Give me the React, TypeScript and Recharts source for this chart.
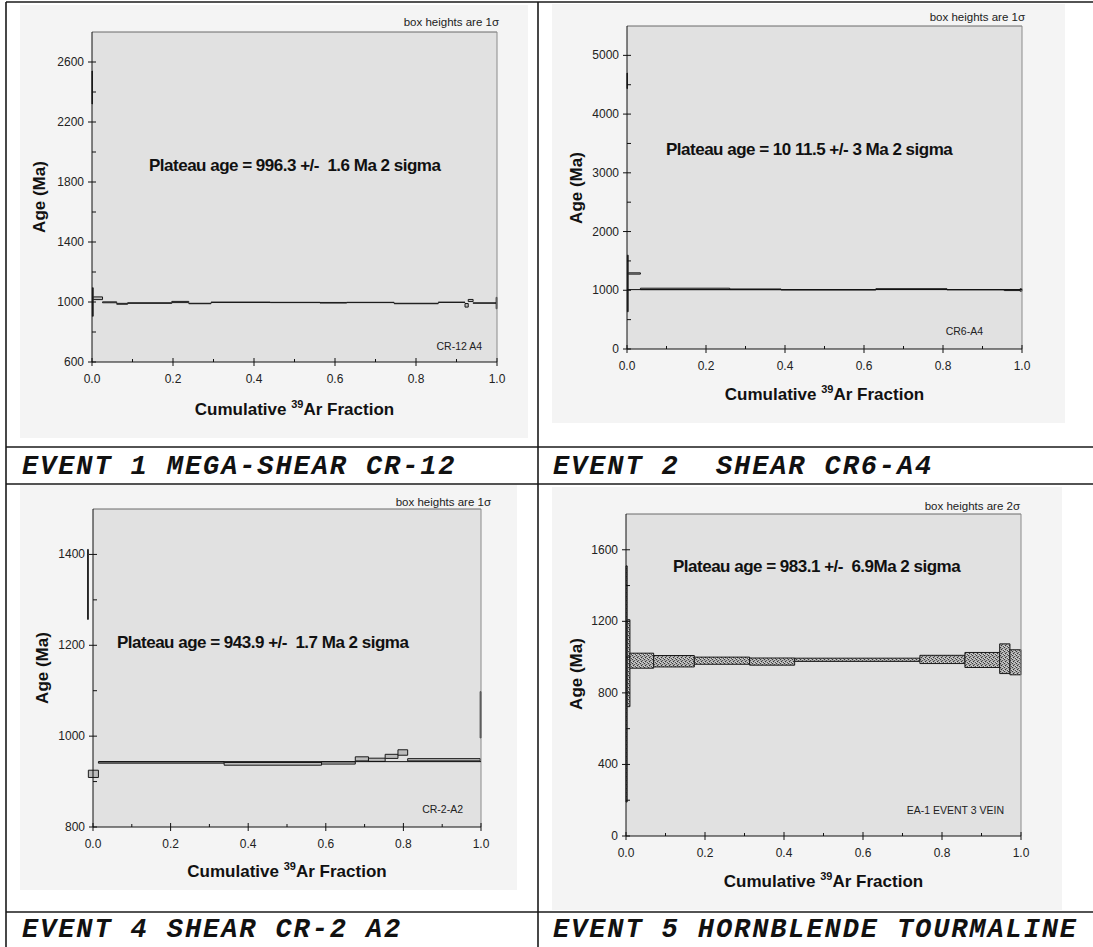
import React from "react";
import { CartesianGrid, ComposedChart, ReferenceArea, ReferenceLine, XAxis, YAxis } from "recharts";

const SANS = "'Liberation Sans', Arial, Helvetica, sans-serif";
const MONO = "'Courier New', 'Liberation Mono', monospace";

// shared x axis (cumulative 39Ar fraction)
const xTicks = [0, 0.1, 0.2, 0.3, 0.4, 0.5, 0.6, 0.7, 0.8, 0.9, 1.0];
const xMajor = [0, 0.2, 0.4, 0.6, 0.8, 1.0];

// event 1 - CR-12 A4 (step boundaries, step ages, 1 sigma)
const cr12Frac = [0, 0.001, 0.003, 0.026, 0.061, 0.088, 0.197, 0.239, 0.294, 0.44, 0.563, 0.629, 0.746, 0.855, 0.921, 0.929, 0.941, 0.998, 1.0];
const cr12Age = [2430, 1000, 1025, 998, 988, 993, 1000, 990, 998, 997, 995, 997, 990, 998, 978, 1010, 993, 993];
const cr12Err = [110, 95, 9, 3, 3, 2, 4, 1.5, 1.5, 1, 2, 1, 1.5, 1, 12, 7, 1.5, 38];
const cr12Ticks = [600, 800, 1000, 1200, 1400, 1600, 1800, 2000, 2200, 2400, 2600];
const cr12Major = [600, 1000, 1400, 1800, 2200, 2600];

// event 2 - CR6-A4
const cr6Frac = [0, 0.001, 0.003, 0.034, 0.26, 0.39, 0.63, 0.81, 0.955, 0.995, 1.0];
const cr6Age = [4566, 1116, 1286, 1023, 1016, 1008, 1020, 1010, 1003, 1005];
const cr6Err = [133, 482, 11, 12, 6, 3, 7, 3, 8, 20];
const cr6Ticks = [0, 500, 1000, 1500, 2000, 2500, 3000, 3500, 4000, 4500, 5000];
const cr6Major = [0, 1000, 2000, 3000, 4000, 5000];

// event 4 - CR-2 A2
const cr2Frac = [-0.014, -0.012, 0.014, 0.338, 0.589, 0.676, 0.71, 0.753, 0.786, 0.811, 0.998, 1.0];
const cr2Age = [1334, 917, 942, 939, 941, 950, 948, 955.5, 964, 948, 1047];
const cr2Err = [77, 8, 1.5, 3, 2.5, 4.5, 3.5, 4.5, 6, 2.5, 51];
const cr2Ticks = [800, 900, 1000, 1100, 1200, 1300, 1400];
const cr2Major = [800, 1000, 1200, 1400];

// event 5 - EA-1 hornblende (2 sigma boxes)
const ea1Frac = [0, 0.003, 0.01, 0.07, 0.173, 0.313, 0.427, 0.744, 0.858, 0.946, 0.972, 1.0];
const ea1Age = [850, 966, 980, 977, 980, 975, 985, 987, 984, 991, 971];
const ea1Err = [660, 243, 42, 32, 20, 20, 9, 23, 42, 83, 70];
const ea1Ticks = [0, 200, 400, 600, 800, 1000, 1200, 1400, 1600];
const ea1Major = [0, 400, 800, 1200, 1600];

const plateauAges = [996.3, 1011.5, 943.9, 983.1];
const plateauTexts = [
  "Plateau age = 996.3 +/-  1.6 Ma 2 sigma",
  "Plateau age = 10 11.5 +/- 3 Ma 2 sigma",
  "Plateau age = 943.9 +/-  1.7 Ma 2 sigma",
  "Plateau age = 983.1 +/-  6.9Ma 2 sigma",
];
const sampleNames = ["CR-12 A4", "CR6-A4", "CR-2-A2", "EA-1 EVENT 3 VEIN"];
const boxNotes = ["box heights are 1\u03c3", "box heights are 1\u03c3", "box heights are 1\u03c3", "box heights are 2\u03c3"];
const captions = ["EVENT 1 MEGA-SHEAR CR-12", "EVENT 2  SHEAR CR6-A4", "EVENT 4 SHEAR CR-2 A2", "EVENT 5 HORNBLENDE TOURMALINE"];

const XTick = (props: any) => {
  const { x, y, payload } = props;
  const major = xMajor.includes(payload.value);
  return (
    <g>
      <line x1={x} x2={x} y1={major ? y - 4 : y - 3} y2={major ? y + 4 : y} stroke="#111" />
      {major && (
        <text x={x} y={y + 21} textAnchor="middle" fontSize={12} fontFamily={SANS} fill="#222">
          {payload.value.toFixed(1)}
        </text>
      )}
    </g>
  );
};

const YTick = (props: any) => {
  const { x, y, payload, majors } = props;
  const major = majors.includes(payload.value);
  return (
    <g>
      <line x1={major ? x - 4 : x} x2={x + 4} y1={y} y2={y} stroke="#111" />
      {major && (
        <text x={x - 8} y={y + 4} textAnchor="end" fontSize={12} fontFamily={SANS} fill="#222">
          {payload.value}
        </text>
      )}
    </g>
  );
};

interface SpectrumProps {
  id: string;
  box: [number, number, number, number];
  plot: [number, number, number, number];
  yDomain: [number, number];
  yTicks: number[];
  yMajor: number[];
  frac: number[];
  age: number[];
  err: number[];
  plateau?: [number, number, number];
  stipple?: boolean;
}

function Spectrum(p: SpectrumProps) {
  const [bx, by, bw, bh] = p.box;
  const [x0, y0, x1, y1] = p.plot;
  const yW = 60;
  const xH = 30;
  const margin = { left: x0 - bx - yW, top: y0 - by, right: bx + bw - x1, bottom: by + bh - y1 - xH };
  const steps = p.age.map((a, i) => ({ from: p.frac[i], to: p.frac[i + 1], lo: a - p.err[i], hi: a + p.err[i] }));
  const fill = p.stipple ? `url(#stip-${p.id})` : "#bcbcbc";
  return (
    <div style={{ position: "absolute", left: bx, top: by, width: bw, height: bh, background: "#f4f4f4" }}>
      <ComposedChart width={bw} height={bh} margin={margin} data={steps}>
        <defs>
          <pattern id={`stip-${p.id}`} width="4" height="4" patternUnits="userSpaceOnUse">
            <rect width="4" height="4" fill="#a9a9a9" />
            <rect x="0" y="0" width="1" height="1" fill="#3a3a3a" />
            <rect x="2" y="0" width="1" height="1" fill="#d0d0d0" />
            <rect x="2" y="1" width="1" height="1" fill="#555" />
            <rect x="1" y="2" width="1" height="1" fill="#333" />
            <rect x="3" y="2" width="1" height="1" fill="#cfcfcf" />
            <rect x="3" y="3" width="1" height="1" fill="#4c4c4c" />
            <rect x="0" y="3" width="1" height="1" fill="#d8d8d8" />
          </pattern>
        </defs>
        <CartesianGrid fill="#e1e1e1" stroke="none" />
        <XAxis
          type="number"
          dataKey="from"
          domain={[0, 1]}
          allowDataOverflow
          ticks={xTicks}
          interval={0}
          tickSize={0}
          tickMargin={0}
          height={xH}
          axisLine={{ stroke: "#111" }}
          tickLine={false}
          tick={(props: any) => <XTick {...props} />}
        />
        <YAxis
          type="number"
          domain={p.yDomain}
          allowDataOverflow
          ticks={p.yTicks}
          interval={0}
          tickSize={0}
          tickMargin={0}
          width={yW}
          axisLine={{ stroke: "#111" }}
          tickLine={false}
          tick={(props: any) => <YTick {...props} majors={p.yMajor} />}
        />
        <ReferenceLine y={p.yDomain[1]} stroke="#6a6a6a" />
        <ReferenceLine x={1} stroke="#8a8a8a" />
        {steps.map((s, i) => (
          <ReferenceArea
            key={i}
            x1={s.from}
            x2={s.to}
            y1={s.lo}
            y2={s.hi}
            fill={fill}
            fillOpacity={1}
            stroke="#1a1a1a"
            strokeWidth={1}
            ifOverflow="visible"
          />
        ))}
        {p.plateau && (
          <ReferenceLine
            segment={[{ x: p.plateau[0], y: p.plateau[2] }, { x: p.plateau[1], y: p.plateau[2] }]}
            stroke="#111"
            strokeWidth={1}
          />
        )}
      </ComposedChart>
    </div>
  );
}

// overlay text positions (page px)
const notes = [
  { plot: [92, 32, 497, 362], note: [499, 26], plateau: [149, 171], sample: [482, 350], yTitle: [45, 197], xBase: 415 },
  { plot: [627, 26, 1022, 349], note: [1025, 21], plateau: [666, 155], sample: [983, 335], yTitle: [582, 188], xBase: 400 },
  { plot: [93, 509, 481, 827], note: [491, 506], plateau: [117, 648], sample: [463, 813], yTitle: [48, 668], xBase: 877 },
  { plot: [626, 514, 1021, 836], note: [1020, 510], plateau: [673, 572], sample: [1004, 814], yTitle: [582, 674], xBase: 887 },
];

const captionPos = [
  [22, 474],
  [553, 474],
  [22, 937],
  [553, 937],
];

export default function App() {
  return (
    <div style={{ position: "absolute", left: 0, top: 0, width: 1093, height: 947, background: "#fff", overflow: "hidden" }}>
      <Spectrum id="a" box={[20, 5, 508, 433]} plot={[92, 32, 497, 362]} yDomain={[600, 2800]} yTicks={cr12Ticks} yMajor={cr12Major} frac={cr12Frac} age={cr12Age} err={cr12Err} />
      <Spectrum id="b" box={[552, 4, 513, 419]} plot={[627, 26, 1022, 349]} yDomain={[0, 5500]} yTicks={cr6Ticks} yMajor={cr6Major} frac={cr6Frac} age={cr6Age} err={cr6Err} plateau={[0, 1, plateauAges[1]]} />
      <Spectrum id="c" box={[20, 485, 497, 405]} plot={[93, 509, 481, 827]} yDomain={[800, 1500]} yTicks={cr2Ticks} yMajor={cr2Major} frac={cr2Frac} age={cr2Age} err={cr2Err} plateau={[0.014, 1, plateauAges[2]]} />
      <Spectrum id="d" box={[552, 487, 510, 423]} plot={[626, 514, 1021, 836]} yDomain={[0, 1800]} yTicks={ea1Ticks} yMajor={ea1Major} frac={ea1Frac} age={ea1Age} err={ea1Err} stipple />
      <svg width={1093} height={947} style={{ position: "absolute", left: 0, top: 0, pointerEvents: "none" }}>
        {notes.map((n, i) => (
          <g key={i} fontFamily={SANS} fill="#111">
            <text x={n.note[0]} y={n.note[1]} textAnchor="end" fontSize={11.5} fill="#222">
              {boxNotes[i]}
            </text>
            <text x={n.plateau[0]} y={n.plateau[1]} fontSize={17} fontWeight="bold" letterSpacing={-0.5} xmlSpace="preserve" style={{ whiteSpace: "pre" }}>
              {plateauTexts[i]}
            </text>
            <text x={n.sample[0]} y={n.sample[1]} textAnchor="end" fontSize={10.5} fill="#222">
              {sampleNames[i]}
            </text>
            <text transform={`translate(${n.yTitle[0]},${n.yTitle[1]}) rotate(-90)`} textAnchor="middle" fontSize={17} fontWeight="bold">
              Age (Ma)
            </text>
            <text x={(n.plot[0] + n.plot[2]) / 2} y={n.xBase} textAnchor="middle" fontSize={17} fontWeight="bold">
              Cumulative{" "}
              <tspan fontSize={11} dy={-7}>
                39
              </tspan>
              <tspan dy={7}>Ar Fraction</tspan>
            </text>
          </g>
        ))}
        <g stroke="#1a1a1a" strokeWidth={1.6}>
          <line x1={6} y1={2} x2={1093} y2={2} />
          <line x1={6} y1={447} x2={1093} y2={447} />
          <line x1={6} y1={484} x2={1093} y2={484} />
          <line x1={6} y1={912} x2={1093} y2={912} />
          <line x1={6} y1={2} x2={6} y2={947} />
          <line x1={538} y1={2} x2={538} y2={947} />
        </g>
        {captions.map((c, i) => (
          <text
            key={c}
            x={captionPos[i][0]}
            y={captionPos[i][1]}
            fontFamily={MONO}
            fontSize={27}
            letterSpacing={1.9}
            fontWeight="bold"
            fontStyle="italic"
            fill="#111"
            xmlSpace="preserve"
            style={{ whiteSpace: "pre" }}
          >
            {c}
          </text>
        ))}
      </svg>
    </div>
  );
}
